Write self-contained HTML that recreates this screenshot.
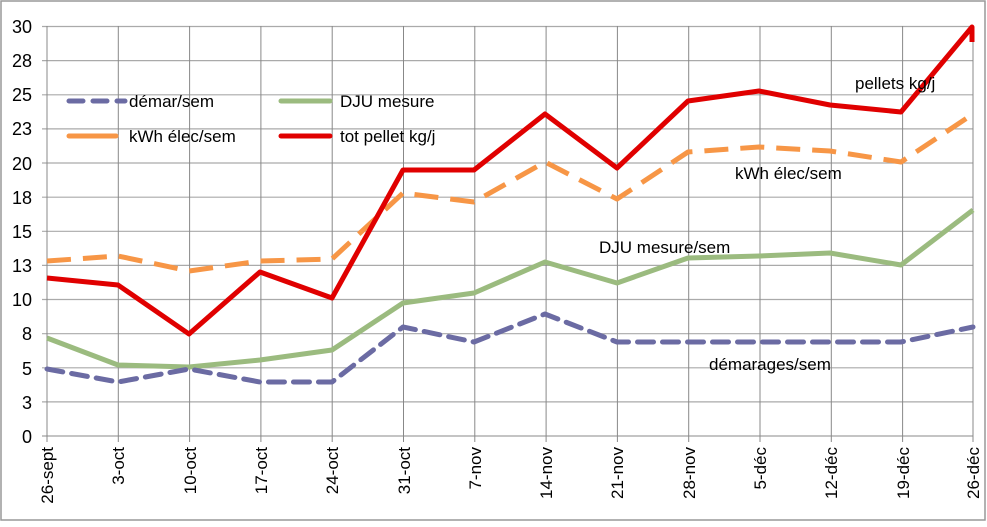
<!DOCTYPE html>
<html><head><meta charset="utf-8"><style>
body{margin:0;background:#fff}
svg text{font-family:"Liberation Sans",sans-serif;fill:#000}
</style></head><body>
<svg width="987" height="522" viewBox="0 0 987 522" xmlns="http://www.w3.org/2000/svg">
<rect x="1" y="1" width="984" height="519" fill="#fff" stroke="#999" stroke-width="1.5"/>
<g stroke="#aaa" stroke-width="1.2">
<line x1="42" x2="973" y1="26.5" y2="26.5"/><line x1="42" x2="973" y1="60.6" y2="60.6"/>
<line x1="42" x2="973" y1="94.8" y2="94.8"/><line x1="42" x2="973" y1="128.9" y2="128.9"/>
<line x1="42" x2="973" y1="163" y2="163"/><line x1="42" x2="973" y1="197.2" y2="197.2"/>
<line x1="42" x2="973" y1="231.3" y2="231.3"/><line x1="42" x2="973" y1="265.4" y2="265.4"/>
<line x1="42" x2="973" y1="299.5" y2="299.5"/><line x1="42" x2="973" y1="333.7" y2="333.7"/>
<line x1="42" x2="973" y1="367.8" y2="367.8"/><line x1="42" x2="973" y1="401.9" y2="401.9"/>
</g>
<g stroke="#888" stroke-width="1">
<line x1="118.3" x2="118.3" y1="26" y2="442"/><line x1="189.6" x2="189.6" y1="26" y2="442"/>
<line x1="260.9" x2="260.9" y1="26" y2="442"/><line x1="332.2" x2="332.2" y1="26" y2="442"/>
<line x1="403.5" x2="403.5" y1="26" y2="442"/><line x1="474.8" x2="474.8" y1="26" y2="442"/>
<line x1="546.1" x2="546.1" y1="26" y2="442"/><line x1="617.4" x2="617.4" y1="26" y2="442"/>
<line x1="688.7" x2="688.7" y1="26" y2="442"/><line x1="760" x2="760" y1="26" y2="442"/>
<line x1="831.3" x2="831.3" y1="26" y2="442"/><line x1="902.6" x2="902.6" y1="26" y2="442"/>
<line x1="973" x2="973" y1="26" y2="442"/>
<line x1="47" x2="47" y1="26" y2="442"/><line x1="42" x2="973" y1="436" y2="436"/>
</g>
<g font-size="18" text-anchor="end">
<text x="32" y="33">30</text><text x="32" y="67">28</text><text x="32" y="101">25</text>
<text x="32" y="135">23</text><text x="32" y="170">20</text><text x="32" y="204">18</text>
<text x="32" y="238">15</text><text x="32" y="272">13</text><text x="32" y="306">10</text>
<text x="32" y="340">8</text><text x="32" y="375">5</text><text x="32" y="409">3</text>
<text x="32" y="443">0</text>
</g>
<g font-size="17" text-anchor="end">
<text transform="translate(53,447) rotate(-90)">26-sept</text>
<text transform="translate(124,447) rotate(-90)">3-oct</text>
<text transform="translate(196,447) rotate(-90)">10-oct</text>
<text transform="translate(267,447) rotate(-90)">17-oct</text>
<text transform="translate(338,447) rotate(-90)">24-oct</text>
<text transform="translate(410,447) rotate(-90)">31-oct</text>
<text transform="translate(481,447) rotate(-90)">7-nov</text>
<text transform="translate(552,447) rotate(-90)">14-nov</text>
<text transform="translate(623,447) rotate(-90)">21-nov</text>
<text transform="translate(695,447) rotate(-90)">28-nov</text>
<text transform="translate(766,447) rotate(-90)">5-déc</text>
<text transform="translate(837,447) rotate(-90)">12-déc</text>
<text transform="translate(909,447) rotate(-90)">19-déc</text>
<text transform="translate(979,447) rotate(-90)">26-déc</text>
</g>
<g fill="none" stroke-width="5" stroke-linejoin="round">
<polyline stroke="#9bbb7f" points="47,338 118,365 189,367 260,360 332,350 403,303 474,293 545,262 617,283 688,258 759,256 830,253 901,265 973,210"/>
<polyline stroke="#f79646" stroke-dasharray="24,12" points="47,261 118,256 189,271 260,261 332,259 403,193 474,202 545,162 617,199 688,152 759,147 830,151 901,162 973,114"/>
<polyline stroke="#6b6ba3" stroke-dasharray="16,9" stroke-linecap="round" points="47,369 118,382 189,369 260,382 332,382 403,327 474,342 545,314 617,342 688,342 759,342 830,342 901,342 973,327"/>
<polyline stroke="#e00000" points="47,278 118,285 189,334 260,272 332,298 403,170 474,170 545,114 617,168 688,101 759,91 830,105 901,112 972,27 972,42"/>
</g>
<g stroke-width="5" fill="none">
<line x1="69" x2="125" y1="101" y2="101" stroke="#6b6ba3" stroke-dasharray="14,10" stroke-linecap="round"/>
<line x1="69" x2="116" y1="136" y2="136" stroke="#f79646" stroke-linecap="round"/>
<line x1="281" x2="330" y1="101" y2="101" stroke="#9bbb7f" stroke-linecap="round"/>
<line x1="281" x2="330" y1="136" y2="136" stroke="#e00000" stroke-linecap="round"/>
</g>
<g font-size="17">
<text x="129" y="107">démar/sem</text>
<text x="129" y="142">kWh élec/sem</text>
<text x="340" y="107">DJU mesure</text>
<text x="340" y="142">tot pellet kg/j</text>
<text x="855" y="89">pellets kg/j</text>
<text x="735" y="179">kWh élec/sem</text>
<text x="599" y="253">DJU mesure/sem</text>
<text x="709" y="370">démarages/sem</text>
</g>
</svg>
</body></html>
